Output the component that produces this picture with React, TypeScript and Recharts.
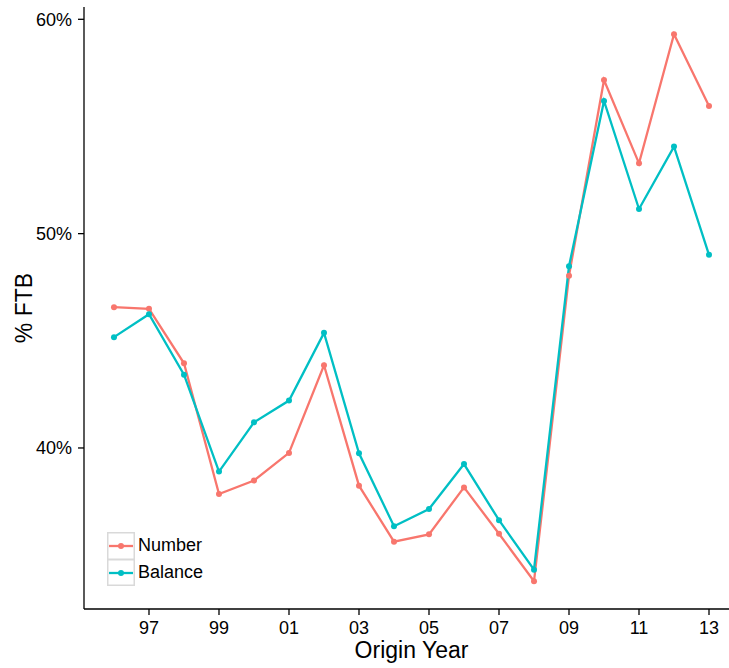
import { LineChart, Line, XAxis, YAxis, Legend } from "recharts";

const years = [1996, 1997, 1998, 1999, 2000, 2001, 2002, 2003, 2004, 2005, 2006, 2007, 2008, 2009, 2010, 2011, 2012, 2013];
const numberPct = [46.57, 46.49, 43.95, 37.85, 38.48, 39.77, 43.86, 38.24, 35.63, 35.97, 38.16, 36.0, 33.78, 48.04, 57.17, 53.28, 59.3, 55.96];
const balancePct = [45.17, 46.24, 43.42, 38.9, 41.2, 42.21, 45.37, 39.75, 36.35, 37.15, 39.25, 36.63, 34.32, 48.48, 56.19, 51.15, 54.06, 49.01];
const xTicks = [1997, 1999, 2001, 2003, 2005, 2007, 2009, 2011, 2013];
const yTicks = [40, 50, 60];

const RED = "#F8766D";
const TEAL = "#00BFC4";
const FONT = "Arial, 'Liberation Sans', sans-serif";

const series = [
  { key: "number", name: "Number", color: RED },
  { key: "balance", name: "Balance", color: TEAL },
];

const data = years.map((year, i) => ({
  year,
  number: numberPct[i],
  balance: balancePct[i],
}));

function LegendBox() {
  return (
    <div style={{ fontFamily: FONT, fontSize: 18, color: "#000" }}>
      {series.map((s, i) => (
        <div key={s.key} style={{ display: "flex", alignItems: "center", height: 27 }}>
          <svg width={28} height={i === 0 ? 28 : 27} style={{ display: "block" }}>
            <rect
              x={0.75}
              y={0.75}
              width={26.5}
              height={i === 0 ? 26.5 : 25.5}
              fill="#fff"
              stroke="#d9d9d9"
              strokeWidth={1.5}
            />
            <line x1={2} x2={26} y1={14} y2={14} stroke={s.color} strokeWidth={2.3} />
            <circle cx={14} cy={14} r={3} fill={s.color} />
          </svg>
          <span style={{ marginLeft: 3, lineHeight: "27px" }}>{s.name}</span>
        </div>
      ))}
    </div>
  );
}

export default function App() {
  return (
    <div style={{ position: "absolute", left: 0, top: 0, width: 729, height: 668, overflow: "hidden", background: "#fff" }}>
      <LineChart width={739} height={668} data={data} margin={{ top: 7, right: 0, bottom: 0, left: 0 }}>
        <XAxis
          dataKey="year"
          type="number"
          domain={[1995.143, 2013.857]}
          ticks={xTicks}
          tickFormatter={(v) => String(v % 100).padStart(2, "0")}
          height={59}
          tickSize={6}
          tickMargin={6}
          stroke="#000"
          strokeWidth={1.3}
          tick={{ fill: "#000", fontSize: 18, fontFamily: FONT }}
          allowDataOverflow
          label={{
            content: ({ viewBox }: any) => (
              <text
                x={viewBox.x + viewBox.width / 2}
                y={viewBox.y + 49}
                textAnchor="middle"
                fontFamily={FONT}
                fontSize={23}
                fill="#000"
              >
                Origin Year
              </text>
            ),
          }}
        />
        <YAxis
          type="number"
          domain={[32.487, 60.574]}
          ticks={yTicks}
          tickFormatter={(v) => `${v}%`}
          width={84}
          tickSize={6}
          tickMargin={6}
          stroke="#000"
          strokeWidth={1.3}
          tick={{ fill: "#000", fontSize: 18, fontFamily: FONT }}
          allowDataOverflow
          label={{
            content: ({ viewBox }: any) => {
              const cx = 32;
              const cy = viewBox.y + viewBox.height / 2;
              return (
                <text
                  x={cx}
                  y={cy}
                  transform={`rotate(-90, ${cx}, ${cy})`}
                  textAnchor="middle"
                  fontFamily={FONT}
                  fontSize={23}
                  fill="#000"
                >
                  % FTB
                </text>
              );
            },
          }}
        />
        <Legend
          layout="horizontal"
          verticalAlign="middle"
          align="center"
          wrapperStyle={{ position: "absolute", left: 107, top: 532, width: "auto" }}
          content={() => <LegendBox />}
        />
        {series.map((s) => (
          <Line
            key={s.key}
            type="linear"
            dataKey={s.key}
            name={s.name}
            stroke={s.color}
            strokeWidth={2.3}
            dot={{ r: 3, fill: s.color, stroke: s.color, strokeWidth: 0 }}
            activeDot={false}
            isAnimationActive={false}
          />
        ))}
      </LineChart>
    </div>
  );
}
